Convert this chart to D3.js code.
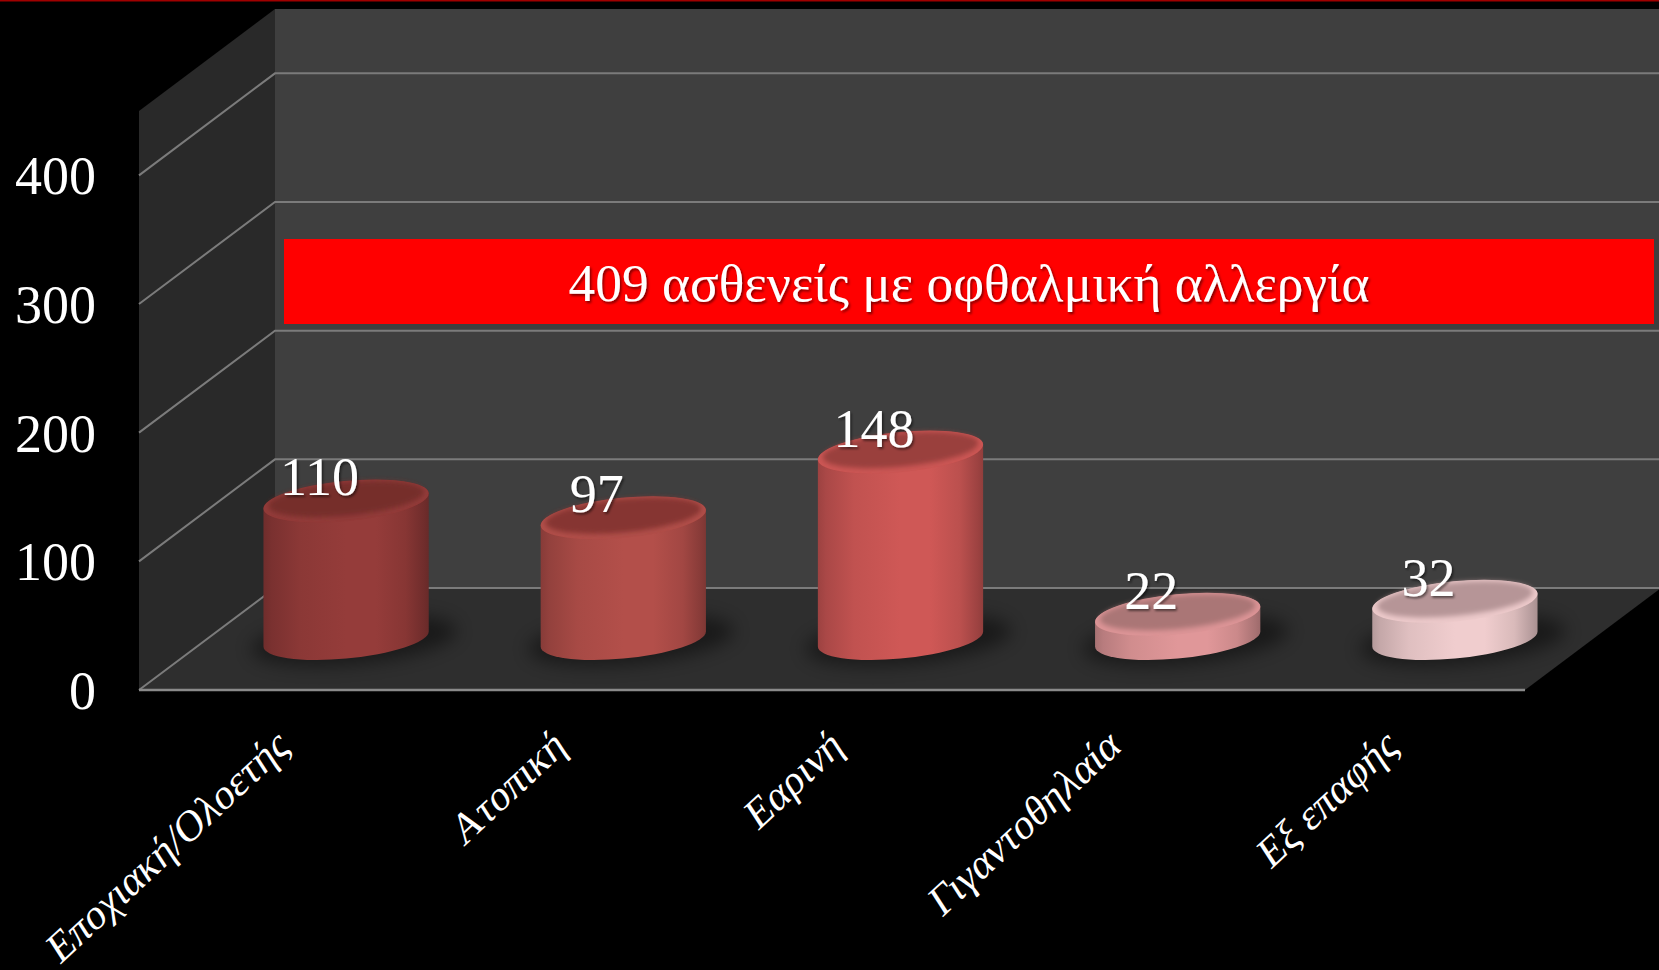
<!DOCTYPE html>
<html><head><meta charset="utf-8">
<script src="https://cdnjs.cloudflare.com/ajax/libs/d3/7.8.5/d3.min.js"></script>
<style>html,body{margin:0;background:#000;overflow:hidden}svg{display:block}text{font-family:"Liberation Serif","Times New Roman",serif;fill:#fff}</style>
</head><body><svg id="c" width="1659" height="970"></svg>
<script>
const categories=["Εποχιακή/Ολοετής","Ατοπική","Εαρινή","Γιγαντοθηλαία","Εξ επαφής"];
const values=[110,97,148,22,32];
const yTicks=[0,100,200,300,400];
const banner="409 ασθενείς με οφθαλμική αλλεργία";
const sideColors=["#953c3a","#b34f4a","#cf5856","#e09799","#f0cdce"];
const topColors=["#762e2c","#863431","#9a3f3c","#aa7676","#b69597"];

const W=1659,H=970,depthX=136,depthY=102;
const svg=d3.select("#c");
const defs=svg.append("defs");
const x=d3.scaleBand().domain(categories).range([139,1525]).paddingInner(0.4).paddingOuter(0.2);
const y=d3.scaleLinear().domain([0,450]).range([690,111]);
const tilt=-5.5,rx=83,ry=19.5;

const f=defs.append("filter").attr("id","ts").attr("x","-10%").attr("y","-20%").attr("width","120%").attr("height","150%");
f.append("feDropShadow").attr("dx",1.5).attr("dy",2).attr("stdDeviation",1.2).attr("flood-color","#000").attr("flood-opacity",.5);
defs.append("filter").attr("id","bl").attr("x","-30%").attr("y","-80%").attr("width","160%").attr("height","260%").append("feGaussianBlur").attr("stdDeviation",9);
defs.append("filter").attr("id","b2").attr("x","-10%").attr("y","-20%").attr("width","120%").attr("height","140%").append("feGaussianBlur").attr("stdDeviation",2.5);

svg.append("rect").attr("width",W).attr("height",H).attr("fill","#000");
svg.append("rect").attr("width",W).attr("height",1.5).attr("fill","#a00000");

const x0=x.range()[0],x1=x.range()[1];
const poly=p=>"M"+p.map(d=>d.join(",")).join("L")+"Z";
svg.append("path").attr("d",poly([[x0+depthX,y(450)-depthY],[W,y(450)-depthY],[W,y(0)-depthY],[x0+depthX,y(0)-depthY]])).attr("fill","#3f3f3f");
svg.append("path").attr("d",poly([[x0,y(450)],[x0+depthX,y(450)-depthY],[x0+depthX,y(0)-depthY],[x0,y(0)]])).attr("fill","#292929");
svg.append("path").attr("d",poly([[x0,y(0)],[x0+depthX,y(0)-depthY],[x1+depthX,y(0)-depthY],[x1,y(0)]])).attr("fill","#2e2e2e");
const grid=svg.append("g").attr("fill","none").attr("stroke","#7b7b7b").attr("stroke-width",2);
yTicks.forEach(t=>{
  grid.append("path").attr("d",`M${x0},${y(t)}L${x0+depthX},${y(t)-depthY}L${W},${y(t)-depthY}`);
});
grid.append("path").attr("d",`M${x0},${y(0)}L${x1},${y(0)}`).attr("stroke","#8a8a8a").attr("stroke-width",2.5);

svg.append("rect").attr("x",284).attr("y",239).attr("width",1370).attr("height",85).attr("fill","#ff0000");
svg.append("text").attr("x",969).attr("y",301).attr("text-anchor","middle").attr("font-size",53.4).attr("filter","url(#ts)").text(banner);

const ax=svg.append("g").attr("transform","translate(96,0)").call(d3.axisLeft(y).tickValues(yTicks).tickSize(0).tickPadding(0).tickFormat(d3.format("d")));
ax.select(".domain").remove();
ax.selectAll("text").attr("font-size",54).attr("dy","0.34em").style("font-family",'"Liberation Serif",serif').attr("fill","#fff");

const th=tilt*Math.PI/180;
const t0=Math.atan2(-ry*Math.sin(th),rx*Math.cos(th));
const ex=t=>[rx*Math.cos(t)*Math.cos(th)-ry*Math.sin(t)*Math.sin(th),rx*Math.cos(t)*Math.sin(th)+ry*Math.sin(t)*Math.cos(th)];
const R=ex(t0),L=[-R[0],-R[1]];
const midX=d=>x(d)+x.bandwidth()/2+depthX/2+.5;
const baseY=y(0)-depthY/2;
const topY=v=>y(v)-depthY/2+3.5;

const bars=svg.selectAll("g.bar").data(values).join("g").attr("class","bar");
bars.each(function(v,i){
  const g=d3.select(this),cat=categories[i],cx=midX(cat),ty=topY(v),by=baseY;
  const c=d3.color(sideColors[i]);
  const gr=defs.append("linearGradient").attr("id","s"+i);
  [[0,c.darker(.8)],[.05,c.darker(.55)],[.22,c.darker(.2)],[.5,c],[.68,c],[.86,c.darker(.28)],[.97,c.darker(.8)],[1,c.darker(1)]]
    .forEach(s=>gr.append("stop").attr("offset",s[0]).attr("stop-color",s[1]));
  g.append("ellipse").attr("cx",cx+8).attr("cy",by+1).attr("rx",rx+20).attr("ry",ry+4)
    .attr("transform",`rotate(${tilt} ${cx+8} ${by+1})`).attr("fill","#000").attr("opacity",.45).attr("filter","url(#bl)");
  const d=`M${cx+L[0]},${ty+L[1]}L${cx+L[0]},${by+L[1]}A${rx},${ry} ${tilt} 0 0 ${cx+R[0]},${by+R[1]}L${cx+R[0]},${ty+R[1]}A${rx},${ry} ${tilt} 0 0 ${cx+L[0]},${ty+L[1]}Z`;
  g.append("path").attr("d",d).attr("fill",`url(#s${i})`);
  g.append("ellipse").attr("cx",cx).attr("cy",ty).attr("rx",rx).attr("ry",ry+.6)
    .attr("transform",`rotate(${tilt} ${cx} ${ty})`).attr("fill",c.darker(.05));
  g.append("ellipse").attr("cx",cx).attr("cy",ty-2).attr("rx",rx-5).attr("ry",ry-3)
    .attr("transform",`rotate(${tilt} ${cx} ${ty-2})`).attr("fill",topColors[i]).attr("filter","url(#b2)");
});
svg.selectAll("text.val").data(values).join("text").attr("class","val")
  .attr("x",(v,i)=>midX(categories[i])-26.5).attr("y",v=>topY(v)-5.5)
  .attr("text-anchor","middle").attr("font-size",54).attr("filter","url(#ts)").text(v=>v);
svg.selectAll("text.cat").data(categories).join("text").attr("class","cat")
  .attr("text-anchor","end").attr("font-size",41.5)
  .attr("transform",d=>`translate(${x(d)+x.bandwidth()/2+13},750) rotate(-43) skewX(-10)`).text(d=>d);
</script></body></html>
